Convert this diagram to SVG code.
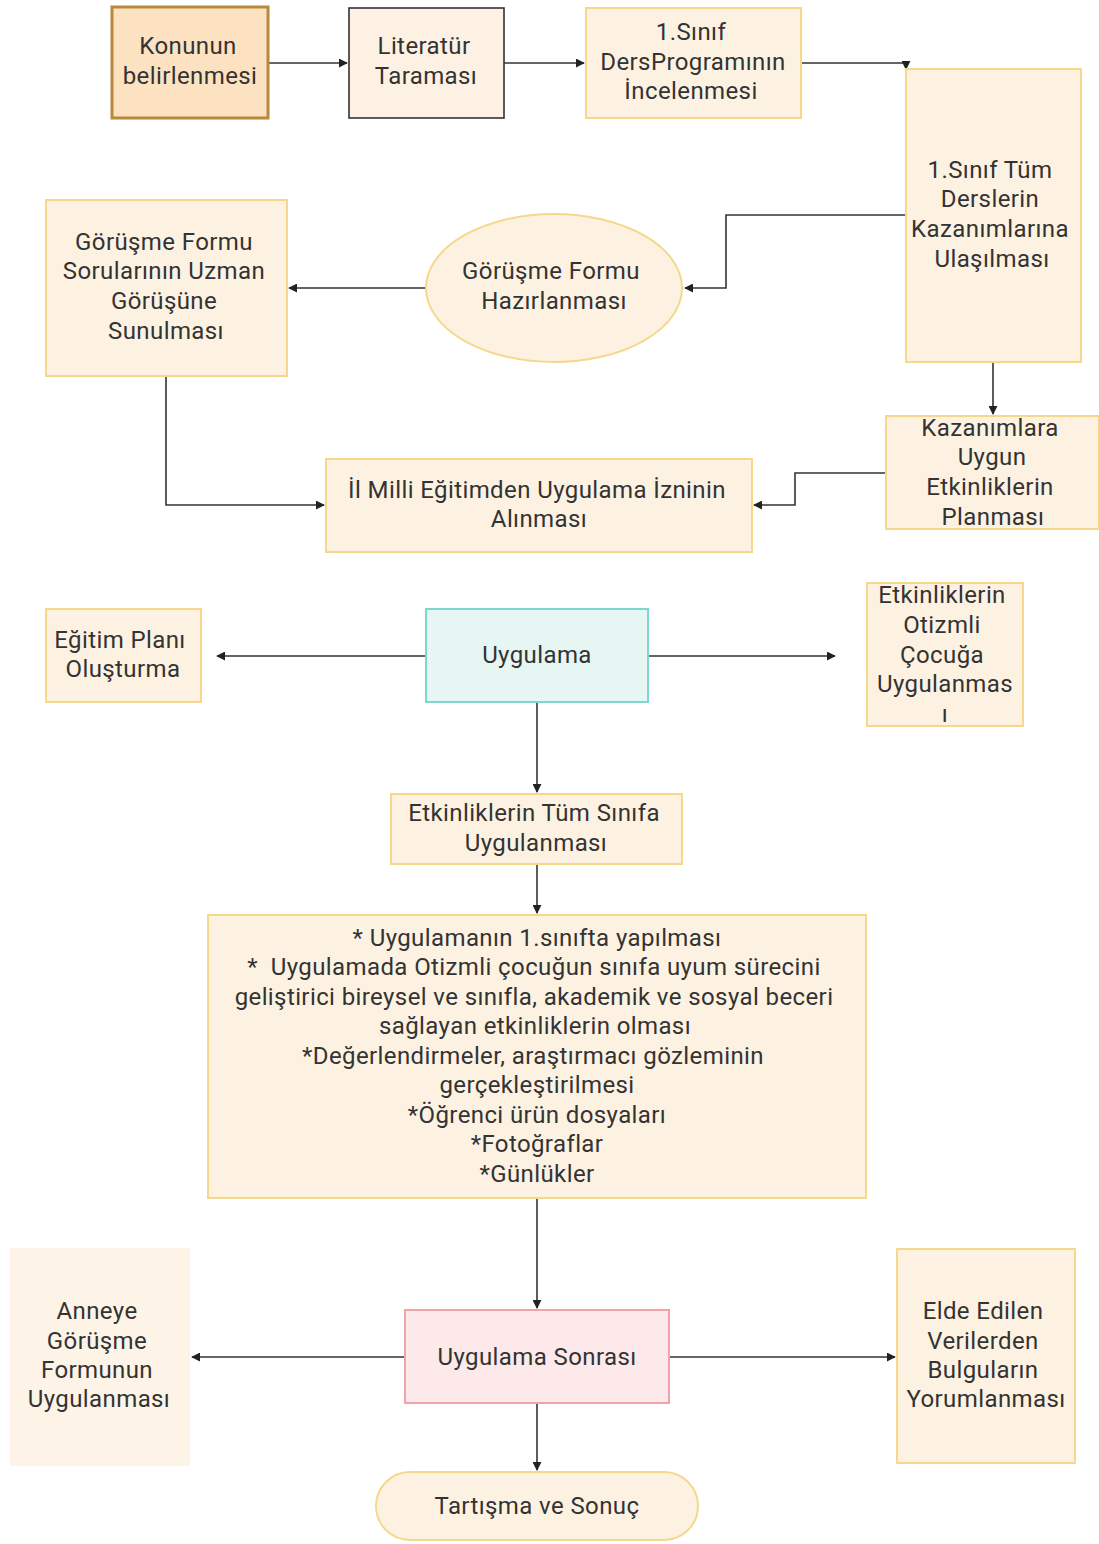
<svg xmlns="http://www.w3.org/2000/svg" width="1099" height="1544" viewBox="0 0 1099 1544">
<style>
text{font-family:Roboto,"Liberation Sans",sans-serif;font-size:24px;letter-spacing:0.4px;fill:#333;text-anchor:middle;dominant-baseline:central}
.n{fill:#fdf2e2;stroke:#f5d88c;stroke-width:2}
.c{fill:none;stroke:#333;stroke-width:1.6}
</style>
<defs>
<marker id="a" viewBox="0 0 10 10" refX="9" refY="5" markerWidth="9" markerHeight="9" orient="auto" markerUnits="userSpaceOnUse"><path d="M0,0L10,5L0,10z" fill="#222"/></marker>
</defs>
<rect width="1099" height="1544" fill="#fff"/>
<g id="connectors">
<path class="c" d="M268,63H347" marker-end="url(#a)"/>
<path class="c" d="M504,63H584" marker-end="url(#a)"/>
<path class="c" d="M801,63H906V69" marker-end="url(#a)"/>
<path class="c" d="M906,215H726V288H685" marker-end="url(#a)"/>
<path class="c" d="M426,288H289" marker-end="url(#a)"/>
<path class="c" d="M166,376V505H324" marker-end="url(#a)"/>
<path class="c" d="M993,362V414" marker-end="url(#a)"/>
<path class="c" d="M886,473H795V505H754" marker-end="url(#a)"/>
<path class="c" d="M426,656H217" marker-end="url(#a)"/>
<path class="c" d="M648,656H835" marker-end="url(#a)"/>
<path class="c" d="M537,702V792" marker-end="url(#a)"/>
<path class="c" d="M537,864V913" marker-end="url(#a)"/>
<path class="c" d="M537,1198V1308" marker-end="url(#a)"/>
<path class="c" d="M405,1357H192" marker-end="url(#a)"/>
<path class="c" d="M669,1357H895" marker-end="url(#a)"/>
<path class="c" d="M537,1403V1470" marker-end="url(#a)"/>
</g>
<g id="n1"><rect x="112" y="7" width="156" height="111" fill="#fde2c1" stroke="#b8893c" stroke-width="3"/><text x="188" y="46">Konunun</text><text x="190" y="76">belirlenmesi</text></g>
<g id="n2"><rect x="349" y="8" width="155" height="110" fill="#fdf1e4" stroke="#333" stroke-width="1.6"/><text x="424" y="46">Literatür</text><text x="426" y="76">Taraması</text></g>
<g id="n3"><rect class="n" x="586" y="8" width="215" height="110"/><text x="691" y="32">1.Sınıf</text><text x="693" y="62">DersProgramının</text><text x="691" y="91">İncelenmesi</text></g>
<g id="n4"><rect class="n" x="906" y="69" width="175" height="293"/><text x="990" y="170">1.Sınıf Tüm</text><text x="990" y="199">Derslerin</text><text x="990" y="229">Kazanımlarına</text><text x="992" y="259">Ulaşılması</text></g>
<g id="n5"><ellipse class="n" cx="554" cy="288" rx="128" ry="74"/><text x="551" y="271">Görüşme Formu</text><text x="554" y="301">Hazırlanması</text></g>
<g id="n6"><rect class="n" x="46" y="200" width="241" height="176"/><text x="164" y="242">Görüşme Formu</text><text x="164" y="271">Sorularının Uzman</text><text x="164" y="301">Görüşüne</text><text x="166" y="331">Sunulması</text></g>
<g id="n7"><rect class="n" x="326" y="459" width="426" height="93"/><text x="537" y="490">İl Milli Eğitimden Uygulama İzninin</text><text x="539" y="519">Alınması</text></g>
<g id="n8"><rect class="n" x="886" y="416" width="213" height="113"/><text x="990" y="428">Kazanımlara</text><text x="992" y="457">Uygun</text><text x="990" y="487">Etkinliklerin</text><text x="993" y="517">Planması</text></g>
<g id="n9"><rect x="426" y="609" width="222" height="93" fill="#e6f6f3" stroke="#7dd6cf" stroke-width="2"/><text x="537" y="655">Uygulama</text></g>
<g id="n10"><rect class="n" x="46" y="609" width="155" height="93"/><text x="120" y="640">Eğitim Planı</text><text x="123" y="669">Oluşturma</text></g>
<g id="n11"><rect class="n" x="867" y="583" width="156" height="143"/><text x="942" y="595">Etkinliklerin</text><text x="942" y="625">Otizmli</text><text x="942" y="655">Çocuğa</text><text x="945" y="684">Uygulanmas</text><text x="945" y="714">ı</text></g>
<g id="n12"><rect class="n" x="391" y="794" width="291" height="70"/><text x="534" y="813">Etkinliklerin Tüm Sınıfa</text><text x="536" y="843">Uygulanması</text></g>
<g id="n13"><rect class="n" x="208" y="915" width="658" height="283"/>
<text x="537" y="938">* Uygulamanın 1.sınıfta yapılması</text>
<text x="534" y="967" xml:space="preserve">*  Uygulamada Otizmli çocuğun sınıfa uyum sürecini</text>
<text x="534" y="997">geliştirici bireysel ve sınıfla, akademik ve sosyal beceri</text>
<text x="535" y="1026">sağlayan etkinliklerin olması</text>
<text x="533" y="1056">*Değerlendirmeler, araştırmacı gözleminin</text>
<text x="537" y="1085">gerçekleştirilmesi</text>
<text x="537" y="1115">*Öğrenci ürün dosyaları</text>
<text x="537" y="1144">*Fotoğraflar</text>
<text x="537" y="1174">*Günlükler</text></g>
<g id="n14"><rect x="405" y="1310" width="264" height="93" fill="#fde9e9" stroke="#f2a3aa" stroke-width="2"/><text x="537" y="1357">Uygulama Sonrası</text></g>
<g id="n15"><rect x="10" y="1248" width="180" height="218" fill="#fdf3e7"/><text x="97" y="1311">Anneye</text><text x="97" y="1341">Görüşme</text><text x="97" y="1370">Formunun</text><text x="99" y="1399">Uygulanması</text></g>
<g id="n16"><rect class="n" x="897" y="1249" width="178" height="214"/><text x="983" y="1311">Elde Edilen</text><text x="983" y="1341">Verilerden</text><text x="983" y="1370">Bulguların</text><text x="986" y="1399">Yorumlanması</text></g>
<g id="n17"><rect class="n" x="376" y="1472" width="322" height="68" rx="34"/><text x="537" y="1506">Tartışma ve Sonuç</text></g>
</svg>
